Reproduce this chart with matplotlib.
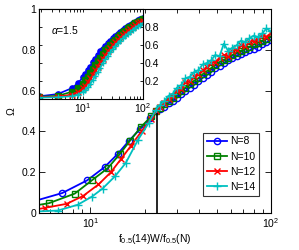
import numpy as np
import matplotlib
matplotlib.use("Agg")
import matplotlib.pyplot as plt

plt.rcParams['font.family'] = ['Liberation Sans', 'DejaVu Sans']
plt.rcParams['mathtext.fontset'] = 'custom'
plt.rcParams['mathtext.rm'] = 'Liberation Sans'
plt.rcParams['mathtext.it'] = 'Liberation Sans:italic'
plt.rcParams['font.size'] = 7.5

labels = ["N=8", "N=10", "N=12", "N=14"]
colors = ["#0000ff", "#008000", "#ff0000", "#00c0c0"]

# main panel, sparse part (first point only carries the line to the left edge)
x_lo_8 = [5.2, 7.0, 9.6, 12.0, 14.2, 16.4, 18.8, 21.5]
q_lo_8 = [0.065, 0.098, 0.16, 0.225, 0.29, 0.355, 0.41, 0.465]
x_lo_10 = [5.2, 5.9, 8.2, 10.2, 12.5, 14.6, 16.6, 19.0, 21.8]
q_lo_10 = [0.04, 0.048, 0.095, 0.16, 0.22, 0.29, 0.355, 0.42, 0.475]
x_lo_12 = [5.2, 5.6, 7.4, 9.1, 11.1, 13.0, 14.8, 16.8, 19.2, 21.6]
q_lo_12 = [0.02, 0.025, 0.045, 0.083, 0.14, 0.2, 0.265, 0.33, 0.4, 0.46]
x_lo_14 = [5.2, 6.6, 8.5, 10.2, 11.7, 13.7, 15.7, 18.4, 21.0]
q_lo_14 = [0.008, 0.012, 0.04, 0.08, 0.12, 0.18, 0.245, 0.36, 0.44]

# main panel, dense part
x_hi = [23.0, 24.3, 25.6, 27.1, 28.6, 30.2, 31.9, 33.6, 35.5, 37.5, 39.6, 41.8, 44.1, 46.6,
        49.2, 51.9, 54.8, 57.9, 61.1, 64.5, 68.1, 71.9, 76.0, 80.2, 84.7, 89.4, 94.4, 99.7]
q_hi_8 = [0.500, 0.512, 0.522, 0.538, 0.550, 0.566, 0.582, 0.597, 0.615, 0.628, 0.645, 0.662, 0.676, 0.690,
          0.712, 0.722, 0.735, 0.750, 0.762, 0.772, 0.780, 0.787, 0.797, 0.806, 0.815, 0.828, 0.836, 0.848]
q_hi_10 = [0.500, 0.516, 0.532, 0.548, 0.562, 0.582, 0.596, 0.615, 0.630, 0.648, 0.660, 0.680, 0.695, 0.710,
           0.726, 0.740, 0.750, 0.762, 0.775, 0.786, 0.795, 0.805, 0.815, 0.826, 0.835, 0.845, 0.855, 0.865]
q_hi_12 = [0.502, 0.522, 0.540, 0.558, 0.574, 0.600, 0.610, 0.640, 0.645, 0.670, 0.680, 0.700, 0.716, 0.735,
           0.742, 0.760, 0.775, 0.770, 0.795, 0.800, 0.825, 0.818, 0.838, 0.845, 0.850, 0.870, 0.865, 0.880]
q_hi_14 = [0.505, 0.530, 0.548, 0.575, 0.585, 0.615, 0.628, 0.660, 0.668, 0.690, 0.700, 0.728, 0.735, 0.748,
           0.775, 0.768, 0.830, 0.795, 0.810, 0.822, 0.845, 0.838, 0.856, 0.870, 0.862, 0.880, 0.905, 0.890]

# inset (alpha = 1.5)
x_in = [1.85, 3.8, 6.5, 8.3, 10, 11, 12.1, 13.3, 14.6, 16.1, 17.7, 19.5, 21.4, 23.6, 25.9,
        28.5, 31.4, 34.5, 38.0, 41.8, 45.9, 50.5, 55.6, 61.1, 67.2, 74.0, 81.4, 89.5, 98.5]
q_in_8 = [0.03, 0.055, 0.12, 0.18, 0.24, 0.28, 0.32, 0.36, 0.41, 0.45, 0.49, 0.53, 0.56, 0.59, 0.62,
          0.65, 0.675, 0.70, 0.725, 0.745, 0.77, 0.79, 0.81, 0.825, 0.845, 0.86, 0.875, 0.89, 0.905]
q_in_10 = [0.025, 0.035, 0.08, 0.12, 0.17, 0.21, 0.25, 0.29, 0.33, 0.38, 0.42, 0.46, 0.50, 0.54, 0.57,
           0.60, 0.635, 0.66, 0.69, 0.715, 0.74, 0.76, 0.785, 0.80, 0.82, 0.84, 0.855, 0.87, 0.885]
q_in_12 = [0.02, 0.025, 0.05, 0.08, 0.12, 0.15, 0.19, 0.23, 0.27, 0.32, 0.36, 0.41, 0.45, 0.49, 0.53,
           0.565, 0.60, 0.63, 0.66, 0.685, 0.71, 0.735, 0.76, 0.78, 0.80, 0.82, 0.84, 0.855, 0.87]
q_in_14 = [0.015, 0.02, 0.03, 0.05, 0.08, 0.10, 0.13, 0.17, 0.21, 0.26, 0.30, 0.35, 0.40, 0.44, 0.48,
           0.52, 0.555, 0.59, 0.62, 0.65, 0.675, 0.70, 0.725, 0.745, 0.77, 0.79, 0.81, 0.825, 0.84]

crossing_x = 23.5
crossing_q = 0.49

main_series = [(x_lo_8, q_lo_8, q_hi_8), (x_lo_10, q_lo_10, q_hi_10),
               (x_lo_12, q_lo_12, q_hi_12), (x_lo_14, q_lo_14, q_hi_14)]
inset_series = [q_in_8, q_in_10, q_in_12, q_in_14]
markers = ['o', 's', 'x', '+']
msizes = [4.5, 3.8, 4.5, 6]

fig = plt.figure(figsize=(2.99, 2.5), dpi=100)
ax = fig.add_axes([0.1304, 0.148, 0.776, 0.816])

for (xl, ql, qh), c, m, ms, lab in zip(main_series, colors, markers, msizes, labels):
    xs = xl + x_hi
    qs = ql + qh
    ax.plot(xs, qs, color=c, lw=1.3, marker=m, ms=ms, mfc='none', mew=1.0,
            markevery=list(range(1, len(xs))), label=lab)

ax.vlines(crossing_x, 0, crossing_q, color='k', lw=1.2, zorder=5)

ax.set_xscale('log')
ax.set_xlim(5.2, 100)
ax.set_ylim(0, 1)
ax.set_yticks([0, 0.2, 0.4, 0.6, 0.8, 1])
ax.set_yticklabels(['0', '0.2', '0.4', '0.6', '0.8', '1'])
ax.tick_params(which='both', direction='in', top=True, right=True, length=3, width=0.6, pad=2)
ax.tick_params(which='major', length=4)
ax.set_xlabel('f$_{0.5}$(14)W/f$_{0.5}$(N)', labelpad=2)
ax.set_ylabel('\u03a9', labelpad=4)
for s in ax.spines.values():
    s.set_linewidth(0.8)

leg = ax.legend(loc='lower right', bbox_to_anchor=(0.95, 0.085), frameon=True, fancybox=False,
                edgecolor='k', fontsize=7.5, handlelength=2.0, handletextpad=0.3,
                borderpad=0.35, labelspacing=0.5, borderaxespad=0)
leg.get_frame().set_linewidth(0.8)

# inset
axi = fig.add_axes([0.1304, 0.604, 0.348, 0.36])
for q, c, m in zip(inset_series, colors, markers):
    axi.plot(x_in, q, color=c, lw=1.2, marker=m, ms=3.8, mew=1.0)
axi.set_xscale('log')
axi.set_xlim(1.85, 100)
axi.set_ylim(0, 1)
axi.set_yticks([0.2, 0.4, 0.6, 0.8])
axi.set_yticklabels(['0.2', '0.4', '0.6', '0.8'])
axi.yaxis.tick_right()
axi.tick_params(which='both', direction='in', top=True, left=True, right=True, length=2.5, width=0.6, pad=1.5)
axi.text(0.12, 0.72, '$\\alpha$=1.5', transform=axi.transAxes, fontsize=7.5)
for s in axi.spines.values():
    s.set_linewidth(0.8)

fig.savefig('out.png', dpi=100)
